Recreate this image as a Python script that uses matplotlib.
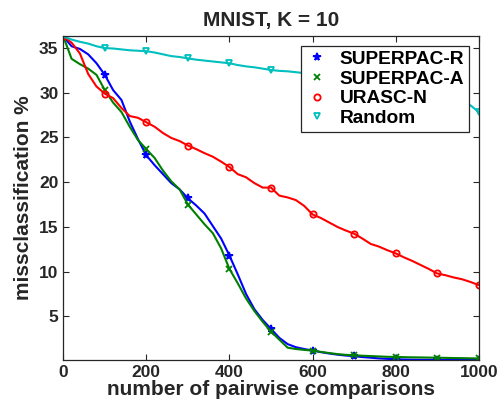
import matplotlib
matplotlib.use("Agg")
import matplotlib.pyplot as plt
from matplotlib.lines import Line2D

x = list(range(0, 1001, 20))

superpac_r = [36.3, 35.2, 34.9, 34.3, 33.3, 32.0, 30.3, 29.2, 26.8, 24.8,
              23.0, 21.9, 20.9, 19.9, 19.2, 18.2, 17.4, 16.5, 15.1, 13.7,
              11.8, 9.7, 7.5, 5.8, 4.6, 3.6, 2.6, 1.9, 1.55, 1.35,
              1.18, 1.0, 0.85, 0.72, 0.62, 0.55, 0.45, 0.38, 0.3, 0.25,
              0.2, 0.18, 0.16, 0.15, 0.14, 0.13, 0.13, 0.12, 0.12, 0.12, 0.12]

superpac_a = [36.3, 33.8, 33.2, 32.7, 32.0, 30.3, 28.9, 27.85, 26.2, 24.7,
              23.7, 22.7, 21.3, 20.1, 19.2, 17.5, 16.4, 15.3, 14.3, 12.6,
              10.3, 8.7, 7.0, 5.6, 4.4, 3.3, 2.4, 1.5, 1.35, 1.25,
              1.18, 1.03, 0.9, 0.78, 0.7, 0.65, 0.6, 0.56, 0.52, 0.48,
              0.46, 0.44, 0.42, 0.41, 0.39, 0.38, 0.36, 0.34, 0.33, 0.31, 0.3]

urasc_n = [36.3, 35.6, 34.4, 32.1, 30.7, 29.9, 29.4, 28.3, 27.4, 27.2,
           26.7, 26.2, 25.5, 24.95, 24.6, 24.1, 23.7, 23.25, 22.85, 22.3,
           21.7, 20.9, 20.55, 19.9, 19.4, 19.4, 18.5, 18.3, 18.0, 17.35,
           16.4, 16.0, 15.5, 15.0, 14.6, 14.25, 13.7, 13.1, 12.8, 12.4,
           12.05, 11.6, 11.2, 10.75, 10.3, 9.8, 9.6, 9.35, 9.15, 8.85, 8.5]

random_ = [36.3, 35.95, 35.7, 35.5, 35.2, 35.0, 34.95, 34.85, 34.75, 34.7,
           34.65, 34.5, 34.3, 34.1, 34.0, 33.85, 33.7, 33.6, 33.5, 33.4,
           33.3, 33.1, 32.95, 32.85, 32.7, 32.55, 32.45, 32.4, 32.3, 32.2,
           32.1, 31.95, 31.8, 31.6, 31.45, 31.3, 31.15, 31.0, 30.8, 30.65,
           30.5, 30.3, 30.15, 30.0, 29.8, 29.6, 29.4, 29.1, 28.85, 28.6, 27.85]

labels = ["SUPERPAC-R", "SUPERPAC-A", "URASC-N", "Random"]
title = "MNIST, K = 10"
xlabel = "number of pairwise comparisons"
ylabel = "missclassification %"
xticks = [0, 200, 400, 600, 800, 1000]
yticks = [5, 10, 15, 20, 25, 30, 35]

plt.rcParams['font.family'] = ['Liberation Sans', 'DejaVu Sans']
plt.rcParams['font.weight'] = 'bold'
TXT = '#262626'

fig = plt.figure(figsize=(5.01, 4.08), dpi=100)
ax = fig.add_axes([0.1263, 0.1176, 0.8292, 0.7942])

series = [superpac_r, superpac_a, urasc_n, random_]
colors = ['#0000ff', '#008000', '#ff0000', '#00bfbf']
markers = ['*', 'x', 'o', 'v']
msizes = [5.5, 4, 4.5, 5]
for ys, c, m, ms in zip(series, colors, markers, msizes):
    mfc = c if m in ('*', 'x') else 'none'
    ax.plot(x, ys, color=c, lw=1.5, marker=m, markevery=5, ms=ms,
            mfc=mfc, mec=c, mew=1.3)

ax.set_xlim(0, 1000)
ax.set_ylim(0.12, 36.35)
ax.set_xticks(xticks)
ax.set_yticks(yticks)
ax.tick_params(direction='in', which='both', top=True, right=True,
               labelsize=12.5, colors=TXT, length=4, width=0.8)
for lab in ax.get_xticklabels() + ax.get_yticklabels():
    lab.set_fontweight('bold')
for s in ax.spines.values():
    s.set_color(TXT)
    s.set_linewidth(0.9)

ax.set_title(title, fontsize=15, fontweight='bold', color=TXT, pad=7)
ax.set_xlabel(xlabel, fontsize=15, fontweight='bold', color=TXT, labelpad=0)
ax.set_ylabel(ylabel, fontsize=15, fontweight='bold', color=TXT, labelpad=4)

handles = [Line2D([], [], linestyle='none', marker=m, color=c, ms=ms,
                  mfc=(c if m in ('*', 'x') else 'none'), mec=c, mew=1.3)
           for c, m, ms in zip(colors, markers, msizes)]
leg = ax.legend(handles, labels, loc='upper right', fontsize=13.8,
                frameon=True, fancybox=False, edgecolor=TXT,
                framealpha=1, borderpad=0.25, labelspacing=0.12,
                handlelength=1.2, handletextpad=0.6,
                bbox_to_anchor=(0.977, 0.97), borderaxespad=0)
leg.get_frame().set_linewidth(0.9)
for t in leg.get_texts():
    t.set_fontweight('bold')
    t.set_color('black')

fig.savefig('out.png', dpi=100)
